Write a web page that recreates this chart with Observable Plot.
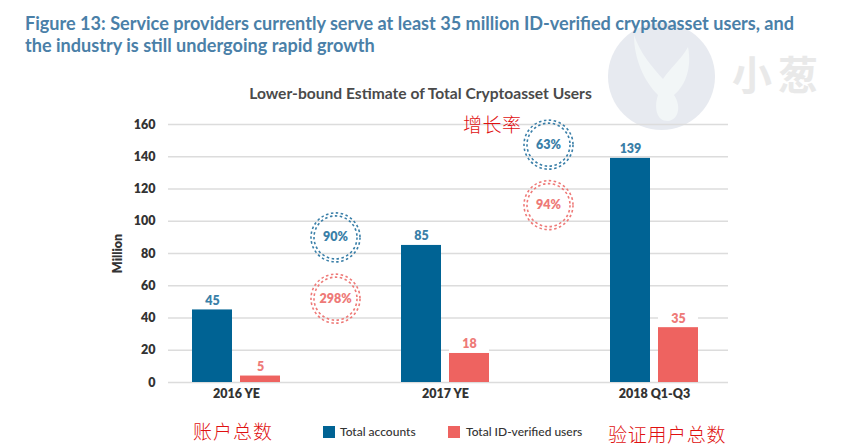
<!DOCTYPE html>
<html>
<head>
<meta charset="utf-8">
<script src="https://cdn.jsdelivr.net/npm/d3@7"></script>
<script src="https://cdn.jsdelivr.net/npm/@observablehq/plot@0.6"></script>
<style>
  html, body { margin: 0; padding: 0; background: #fff; }
  #page { position: relative; width: 841px; height: 448px; overflow: hidden; font-family: Lato, sans-serif; }
  #header { position: relative; height: 110px; z-index: 2; }
  #figure { position: absolute; left: 25px; top: 12px; margin: 0; font-size: 18.1px; line-height: 22px; font-weight: 700; color: #4a80a8; white-space: nowrap; }
  #title { position: absolute; left: 0; width: 841px; padding-left: 0; text-align: center; top: 84px; margin: 0; font-size: 15.6px; line-height: 18px; font-weight: 700; color: #4a4a4a; }
  #chart { position: relative; z-index: 1; }
  #chart svg { display: block; background: transparent; }
  .wm { position: absolute; z-index: 0; }
  #wm-circle { left: 608px; top: 23px; width: 107px; height: 107px; border-radius: 50%; background: #e7eaf0; }
  #wm-leaf { left: 608px; top: 23px; width: 107px; height: 107px; background: #f2f6f7;
    clip-path: path("M26 12 C32 30 44 44 55 56 C63 44 72 38 80 24 C84 44 78 62 66 72 C74 84 70 97 60 98 C48 98 46 84 50 72 C36 58 26 36 26 12 Z"); }
  #wm-text { left: 732px; top: 50px; font-family: "Noto Sans CJK SC"; font-weight: 700; font-size: 40px; line-height: 46px; letter-spacing: 6px; color: #e9e9e9; white-space: nowrap; }
  .note { position: absolute; z-index: 3; font-family: "Noto Sans CJK SC"; font-weight: 300; font-size: 19px; line-height: 20px; color: #e01010; white-space: nowrap; }
  .legend { position: absolute; z-index: 3; top: 424px; font-size: 12px; line-height: 16px; font-weight: 500; color: #333; white-space: nowrap; }
  .swatch { position: absolute; z-index: 3; top: 426px; width: 12px; height: 12px; }
</style>
</head>
<body>
<div id="page">
  <div class="wm" id="wm-circle"></div>
  <div class="wm" id="wm-leaf"></div>
  <div class="wm" id="wm-text">小葱</div>
  <div id="header">
    <p id="figure">Figure 13: Service providers currently serve at least 35 million ID-verified cryptoasset users, and<br>the industry is still undergoing rapid growth</p>
    <p id="title">Lower-bound Estimate of Total Cryptoasset Users</p>
  </div>
  <div id="chart"></div>
  <div class="note" style="left:463px;top:114px;letter-spacing:0.5px">增长率</div>
  <div class="note" style="left:193px;top:421px;letter-spacing:1px">账户总数</div>
  <div class="note" style="left:608px;top:424px;letter-spacing:0.7px">验证用户总数</div>
  <div class="swatch" style="left:323px;background:#006394"></div>
  <div class="legend" style="left:340px">Total accounts</div>
  <div class="swatch" style="left:448px;background:#ee6360"></div>
  <div class="legend" style="left:466px">Total ID-verified users</div>
</div>
<script>
const periods = ["2016 YE", "2017 YE", "2018 Q1-Q3"];
const accounts = [45, 85, 139];
const verifiedBars = [4, 18, 34];
const verifiedLabels = [5, 18, 35];
const yTicks = [0, 20, 40, 60, 80, 100, 120, 140, 160];

const growthPeriods = ["2017 YE", "2018 Q1-Q3"];
const growthAccounts = ["90%", "63%"];
const growthVerified = ["298%", "94%"];
const growthAccountsY = [90, 147.5];
const growthVerifiedY = [52, 110];

const blue = "#006394", red = "#ee6360", blueText = "#3a7fa8", redText = "#ee7a78";

const rows = periods.map((p, i) => ({
  period: p, accounts: accounts[i], verified: verifiedBars[i], verifiedLabel: verifiedLabels[i]
}));

function rings(period, dx) {
  const i = growthPeriods.indexOf(period);
  const pair = [
    {period, y: growthAccountsY[i], label: growthAccounts[i], color: blueText},
    {period, y: growthVerifiedY[i], label: growthVerified[i], color: redText}
  ];
  const ring = r => Plot.dot(pair, {x: "period", y: "y", r, dx, stroke: "color", fill: "none",
    strokeWidth: 1.6, strokeDasharray: "2.5,2.5"});
  return [
    ring(24.5), ring(21.5),
    Plot.text(pair, {x: "period", y: "y", dx, text: "label", fill: "color", fontWeight: 800, fontSize: 12.5})
  ];
}

const barDx = 24;
const plot = Plot.plot({
  width: 841,
  height: 300,
  marginLeft: 168,
  marginRight: 113,
  marginTop: 14,
  marginBottom: 28,
  style: {fontFamily: "Lato, sans-serif", fontSize: "12px", background: "transparent", color: "#333"},
  x: {domain: periods, paddingInner: 0.809, paddingOuter: 0.241, align: 0.47, label: null},
  y: {domain: [0, 160], label: null},
  marks: [
    Plot.ruleY(yTicks, {stroke: "#dcdcdc", strokeWidth: 1.6}),
    Plot.axisY({ticks: yTicks, tickSize: 0, tickPadding: 13, fontWeight: 800, fontSize: 12.5, fill: "#333",
      label: "Million", labelAnchor: "center", labelArrow: "none", labelOffset: 55}),
    Plot.axisX({tickSize: 0, tickPadding: 7, fontWeight: 800, fontSize: 12.5, fill: "#333", label: null}),
    Plot.barY(rows, {x: "period", y1: "verified", y2: d => d.verified + 10, dx: barDx, fill: "#fff"}),
    Plot.barY(rows, {x: "period", y: "accounts", dx: -barDx, fill: blue}),
    Plot.barY(rows, {x: "period", y: "verified", dx: barDx, fill: red}),
    Plot.text(rows, {x: "period", y: "accounts", text: "accounts", dx: -barDx, dy: -9, fill: blueText, fontWeight: 800, fontSize: 12.5}),
    Plot.text(rows, {x: "period", y: "verified", text: "verifiedLabel", dx: barDx, dy: -9, fill: redText, fontWeight: 800, fontSize: 12.5}),
    ...rings("2017 YE", -110),
    ...rings("2018 Q1-Q3", -106)
  ]
});
document.getElementById("chart").appendChild(plot);
</script>
</body>
</html>
